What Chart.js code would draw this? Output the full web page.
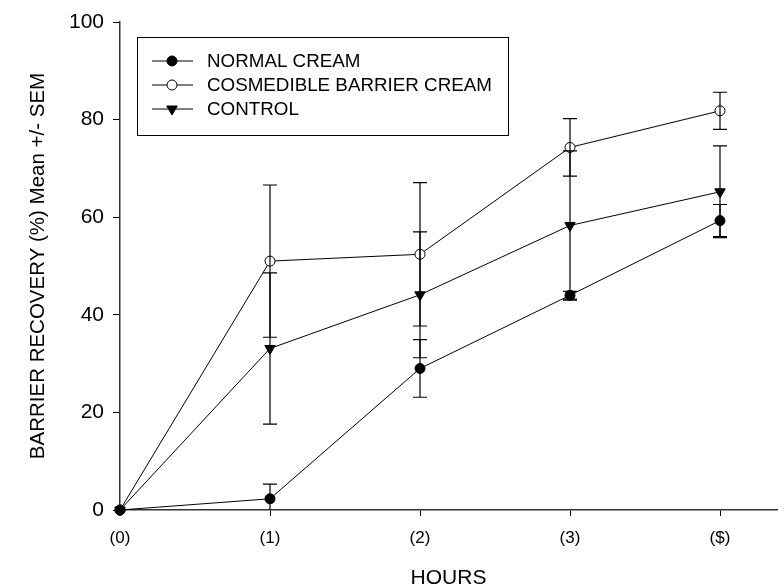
<!DOCTYPE html>
<html>
<head>
<meta charset="utf-8">
<script src="https://cdn.jsdelivr.net/npm/chart.js@4"></script>
<style>
  html, body { margin: 0; padding: 0; background: #fff; }
  #wrap { width: 784px; height: 588px; }
</style>
</head>
<body>
<div id="wrap"><canvas id="myChart"></canvas></div>
<script>
// data set
var hours = [0, 1, 2, 3, 4];
var hourLabels = ["(0)", "(1)", "(2)", "(3)", "($)"];

var normalMean = [0, 2.3, 29.0, 44.0, 59.3];
var normalSem = [0, 3.0, 5.9, 0.8, 3.3];

var cosmMean = [0, 51.0, 52.4, 74.3, 81.8];
var cosmSem = [0, 15.6, 14.7, 5.9, 3.8];

var controlMean = [0, 33.1, 44.1, 58.3, 65.2];
var controlSem = [0, 15.5, 12.9, 15.3, 9.4];

var seriesNames = ["NORMAL CREAM", "COSMEDIBLE BARRIER CREAM", "CONTROL"];

function pts(means, sems) {
  return hours.map((h, i) => ({ x: h, y: means[i], sem: sems[i] }));
}

// error bars, drawn from the scales
const errorBars = {
  id: "errorBars",
  afterDatasetsDraw(chart) {
    const ctx = chart.ctx;
    const xs = chart.scales.x, ys = chart.scales.y;
    ctx.save();
    ctx.strokeStyle = "#000";
    ctx.lineWidth = 1.2;
    chart.data.datasets.forEach(ds => {
      ds.data.forEach(p => {
        if (!p.sem) return;
        const x = xs.getPixelForValue(p.x);
        const top = ys.getPixelForValue(p.y + p.sem);
        const lo = p.y - p.sem;
        const bot = ys.getPixelForValue(Math.max(lo, 0));
        ctx.beginPath();
        ctx.moveTo(x, top); ctx.lineTo(x, bot);
        ctx.moveTo(x - 7, top); ctx.lineTo(x + 7, top);
        if (lo >= 0) { ctx.moveTo(x - 7, bot); ctx.lineTo(x + 7, bot); }
        ctx.stroke();
      });
    });
    ctx.restore();
  }
};

// boxed legend with line + marker samples
const boxLegend = {
  id: "boxLegend",
  afterDraw(chart) {
    const ctx = chart.ctx;
    ctx.save();
    ctx.strokeStyle = "#000";
    ctx.lineWidth = 1;
    ctx.strokeRect(137.5, 37.5, 371, 98);
    ctx.font = "18.8px 'Liberation Sans', Arial, sans-serif";
    ctx.textBaseline = "middle";
    chart.data.datasets.forEach((ds, i) => {
      const y = 61 + i * 24;
      const r = ds.pointRadius;
      ctx.strokeStyle = "#000";
      ctx.beginPath();
      ctx.moveTo(152, y); ctx.lineTo(193, y);
      ctx.stroke();
      ctx.fillStyle = ds.pointBackgroundColor;
      ctx.beginPath();
      if (ds.pointStyle === "circle") {
        ctx.arc(172, y, r, 0, Math.PI * 2);
      } else {
        ctx.moveTo(172 - r * 0.87, y - r * 0.5);
        ctx.lineTo(172 + r * 0.87, y - r * 0.5);
        ctx.lineTo(172, y + r);
        ctx.closePath();
      }
      ctx.fill(); ctx.stroke();
      ctx.fillStyle = "#000";
      ctx.fillText(seriesNames[i], 207, y + 1);
    });
    ctx.restore();
  }
};

const fam = "'Liberation Sans', Arial, sans-serif";

new Chart("myChart", {
  type: "line",
  data: {
    datasets: [{
      label: seriesNames[0],
      data: pts(normalMean, normalSem),
      borderColor: "#000",
      borderWidth: 1,
      pointStyle: "circle",
      pointRadius: 5,
      pointBackgroundColor: "#000",
      pointBorderColor: "#000",
      clip: false
    }, {
      label: seriesNames[1],
      data: pts(cosmMean, cosmSem),
      borderColor: "#000",
      borderWidth: 1,
      pointStyle: "circle",
      pointRadius: 5,
      pointBackgroundColor: "#fff",
      pointBorderColor: "#000",
      clip: false
    }, {
      label: seriesNames[2],
      data: pts(controlMean, controlSem),
      borderColor: "#000",
      borderWidth: 1,
      pointStyle: "triangle",
      pointRotation: 180,
      pointRadius: 6,
      pointBackgroundColor: "#000",
      pointBorderColor: "#000",
      clip: false
    }]
  },
  options: {
    responsive: true,
    maintainAspectRatio: false,
    animation: false,
    layout: { padding: { top: 22, right: 0, left: 0, bottom: 0 } },
    plugins: {
      legend: { display: false },
      tooltip: { enabled: false }
    },
    scales: {
      x: {
        type: "linear",
        min: 0,
        max: 4.38,
        afterBuildTicks: s => { s.ticks = hours.map(v => ({ value: v })); },
        afterFit: s => { s.height = 78; },
        grid: { drawOnChartArea: false, drawTicks: true, tickLength: 6, color: "#000" },
        border: { color: "#333", width: 1.5 },
        ticks: {
          color: "#000",
          font: { family: fam, size: 17 },
          padding: 12,
          maxRotation: 0,
          callback: v => hourLabels[v]
        },
        title: {
          display: true,
          text: "HOURS",
          color: "#000",
          font: { family: fam, size: 21 },
          padding: { top: 0, bottom: -3 }
        }
      },
      y: {
        min: 0,
        max: 100,
        afterFit: s => { s.width = 120; },
        grid: { drawOnChartArea: false, drawTicks: true, tickLength: 7, color: "#000" },
        border: { color: "#333", width: 1.5 },
        ticks: {
          stepSize: 20,
          color: "#000",
          font: { family: fam, size: 21 },
          padding: 9
        },
        title: {
          display: true,
          text: "BARRIER RECOVERY (%) Mean +/- SEM",
          color: "#000",
          font: { family: fam, size: 20.5 },
          padding: { top: 26, bottom: 0 }
        }
      }
    }
  },
  plugins: [errorBars, boxLegend]
});
</script>
</body>
</html>
